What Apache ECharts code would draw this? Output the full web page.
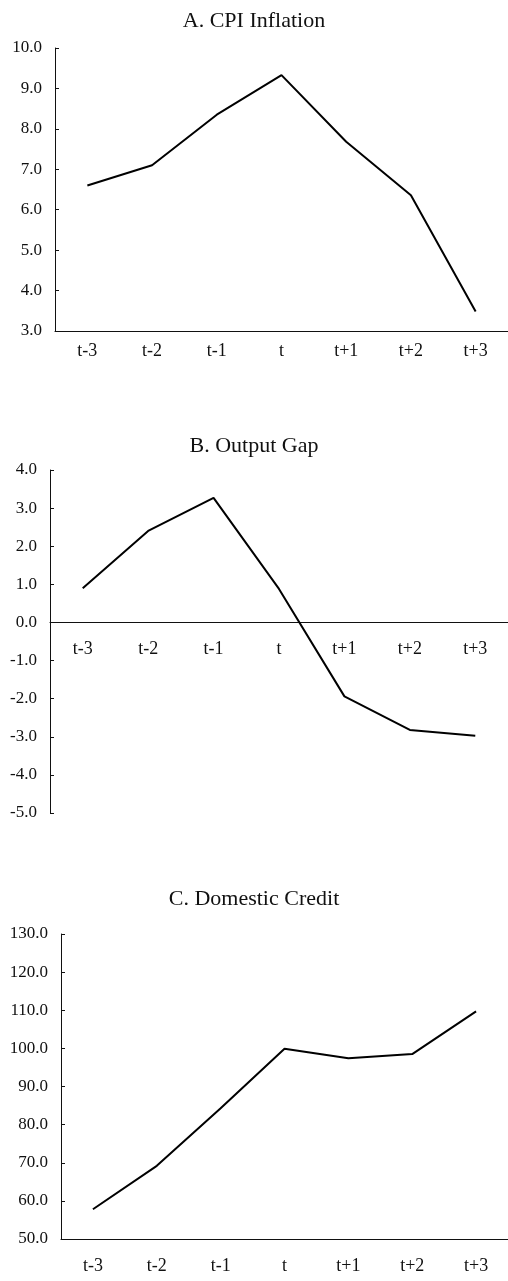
<!DOCTYPE html>
<html>
    <head>
        <meta charset="utf-8">
        <script src="https://cdn.jsdelivr.net/npm/echarts@6/dist/echarts.min.js"></script>
        <style>
            body, #main {
                margin: 0;
                width: 508px;
                height: 1281px;
                background: #fff;
            }
        </style>
    </head>
    <body>
        <div id="main"></div>
        <script>
            // shared category axis
            const periods = ['t-3', 't-2', 't-1', 't', 't+1', 't+2', 't+3'];

            // panel values
            const cpiInflation = [6.6, 7.1, 8.35, 9.33, 7.68, 6.36, 3.48];
            const outputGap = [0.9, 2.4, 3.27, 0.88, -1.94, -2.82, -2.97];
            const domesticCredit = [57.8, 69.2, 84.3, 99.9, 97.4, 98.5, 109.7];

            const panelTitles = ['A. CPI Inflation', 'B. Output Gap', 'C. Domestic Credit'];

            const font = 'Liberation Serif, Times New Roman, serif';
            const ink = '#111';

            const chart = echarts.init(document.getElementById('main'), null, {renderer: 'canvas'});

            const grids = [
                {left: 55, right: 0, top: 48, height: 283},
                {left: 50, right: 0, top: 470, height: 343},
                {left: 61, right: 0, top: 934, height: 305}
            ];
            const yRanges = [
                {min: 3, max: 10, interval: 1},
                {min: -5, max: 4, interval: 1},
                {min: 50, max: 130, interval: 10}
            ];
            const labelMargins = [11, 18, 18];
            const titleTops = [5, 430, 883];
            const seriesData = [cpiInflation, outputGap, domesticCredit];

            // the category axis sits where the value axis crosses zero (or at the bottom)
            function zeroOffset(i) {
                const r = yRanges[i];
                if (r.min >= 0) return 0;
                return -grids[i].height * (0 - r.min) / (r.max - r.min);
            }

            const option = {
                animation: false,
                title: panelTitles.map((text, i) => ({
                    text,
                    left: 'center',
                    top: titleTops[i],
                    textStyle: {fontFamily: font, fontSize: 22, fontWeight: 'normal', color: ink}
                })),
                grid: grids,
                xAxis: grids.map((g, i) => ({
                    type: 'category',
                    gridIndex: i,
                    data: periods,
                    boundaryGap: true,
                    offset: zeroOffset(i),
                    axisLine: {onZero: false, lineStyle: {color: ink, width: 1}},
                    axisTick: {inside: true, length: 5, lineStyle: {color: ink}},
                    axisLabel: {
                        margin: labelMargins[i],
                        fontFamily: font,
                        fontSize: 18,
                        color: ink
                    },
                    splitLine: {show: false}
                })),
                yAxis: grids.map((g, i) => ({
                    type: 'value',
                    gridIndex: i,
                    min: yRanges[i].min,
                    max: yRanges[i].max,
                    interval: yRanges[i].interval,
                    axisLine: {show: true, onZero: false, lineStyle: {color: ink, width: 1}},
                    axisTick: {show: true, inside: true, length: 4, lineStyle: {color: ink}},
                    axisLabel: {
                        margin: 13,
                        fontFamily: font,
                        fontSize: 17,
                        color: ink,
                        formatter: v => v.toFixed(1)
                    },
                    splitLine: {show: false}
                })),
                series: seriesData.map((data, i) => ({
                    type: 'line',
                    xAxisIndex: i,
                    yAxisIndex: i,
                    data,
                    symbol: 'none',
                    lineStyle: {color: '#000', width: 2}
                }))
            };

            chart.setOption(option);
        </script>
    </body>
</html>
